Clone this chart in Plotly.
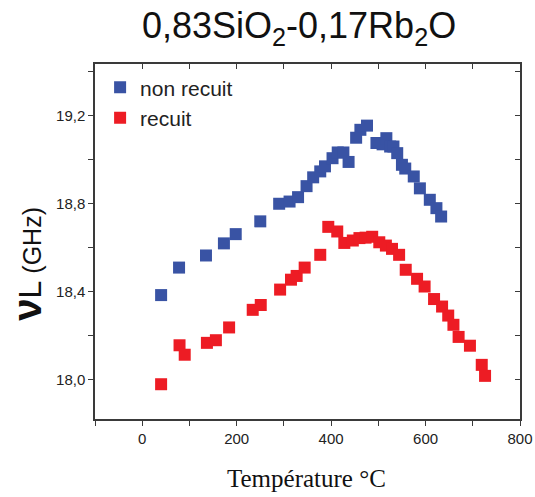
import plotly.graph_objects as go

# Data
temp_non_recuit = [40, 78, 135, 173, 198, 250, 290, 312, 330, 348, 362, 377, 387, 403, 414, 426, 437,
                   453, 462, 476, 496, 509, 517, 525, 532, 540, 550, 557, 575, 588, 609, 623, 633]
vl_non_recuit = [18.385, 18.51, 18.565, 18.62, 18.662, 18.72, 18.80, 18.81, 18.83, 18.88, 18.92, 18.947,
                 18.97, 19.007, 19.033, 19.033, 18.99, 19.10, 19.136, 19.155, 19.076, 19.07, 19.098,
                 19.06, 19.06, 19.03, 18.977, 18.96, 18.924, 18.87, 18.818, 18.78, 18.742]

temp_recuit = [40, 79, 90, 137, 156, 184, 234, 251, 292, 315, 327, 344, 377, 394, 413, 428, 446, 460,
               473, 487, 502, 516, 529, 544, 558, 582, 598, 618, 635, 648, 659, 670, 694, 719, 726]
vl_recuit = [17.98, 18.157, 18.114, 18.168, 18.18, 18.238, 18.318, 18.34, 18.41, 18.455, 18.472, 18.51,
             18.568, 18.695, 18.674, 18.622, 18.633, 18.644, 18.646, 18.65, 18.625, 18.61, 18.595,
             18.568, 18.5, 18.459, 18.424, 18.367, 18.333, 18.292, 18.25, 18.195, 18.155, 18.068, 18.018]

series_names = ["non recuit", "recuit"]
title_text = "0,83SiO<sub>2</sub>-0,17Rb<sub>2</sub>O"
x_title = "Température °C"

BLUE = "#3953A4"
RED = "#ED1C24"
AX = "#3a3a3a"

fig = go.Figure()
fig.add_trace(go.Scatter(x=temp_non_recuit, y=vl_non_recuit, mode="markers", name=series_names[0],
                         marker=dict(symbol="square", size=12, color=BLUE, line=dict(width=0))))
fig.add_trace(go.Scatter(x=temp_recuit, y=vl_recuit, mode="markers", name=series_names[1],
                         marker=dict(symbol="square", size=12, color=RED, line=dict(width=0))))
# invisible trace to anchor the top/right tick axes
fig.add_trace(go.Scatter(x=[None], y=[None], xaxis="x2", yaxis="y2", showlegend=False, hoverinfo="skip"))

XR = [-100, 800]
YR = [17.822, 19.435]

fig.update_layout(
    template="none",
    width=535, height=497,
    margin=dict(l=95, r=15, t=64, b=78, autoexpand=False),
    paper_bgcolor="white", plot_bgcolor="white",
    separators=",.",
    font=dict(family="Liberation Sans, Arial, sans-serif", color="#222"),
    title=dict(text=title_text, x=0.559, xref="container", xanchor="center",
               y=0.949, yref="container", yanchor="middle",
               font=dict(size=36, color="#111", family="Liberation Sans, Arial, sans-serif")),
    showlegend=True,
    legend=dict(x=0.012, y=0.991, xanchor="left", yanchor="top", bgcolor="rgba(0,0,0,0)",
                font=dict(size=21, color="#222"), itemsizing="constant", tracegroupgap=0),
    xaxis=dict(range=XR, showgrid=False, zeroline=False, showline=True, mirror=True, automargin=False,
               linecolor=AX, linewidth=1.5, ticks="outside", ticklen=5, tickwidth=1.2, tickcolor=AX,
               tick0=0, dtick=200, tickfont=dict(size=15, color="#222"),
               minor=dict(dtick=100, tick0=0, ticks="outside", ticklen=5, tickwidth=1.2, tickcolor=AX, showgrid=False)),
    yaxis=dict(range=YR, showgrid=False, zeroline=False, showline=True, mirror=True, automargin=False,
               linecolor=AX, linewidth=1.5, ticks="outside", ticklen=5, tickwidth=1.2, tickcolor=AX,
               tick0=18.0, dtick=0.4, tickformat=".1f", tickfont=dict(size=15, color="#222"),
               minor=dict(dtick=0.2, tick0=18.0, ticks="outside", ticklen=5, tickwidth=1.2, tickcolor=AX, showgrid=False)),
    xaxis2=dict(range=XR, overlaying="x", side="top", anchor="y", showgrid=False, zeroline=False, automargin=False,
                showticklabels=False, ticks="inside", ticklen=5, tickwidth=1.2, tickcolor=AX,
                tick0=0, dtick=100, showline=False),
    yaxis2=dict(range=YR, overlaying="y", side="right", anchor="x", showgrid=False, zeroline=False, automargin=False,
                showticklabels=False, ticks="inside", ticklen=5, tickwidth=1.2, tickcolor=AX,
                tick0=18.0, dtick=0.2, showline=False),
)

# y-axis title
fig.add_annotation(
    text="<span style='font-size:40px'><b>ν</b></span><span style='font-size:32px'>L</span> (GHz)",
    xref="paper", yref="paper", x=-0.162, y=0.438, xanchor="center", yanchor="middle",
    textangle=-90, showarrow=False, font=dict(size=25, color="#111", family="Liberation Sans, Arial, sans-serif"))

# x-axis title
fig.add_annotation(
    text=x_title, xref="paper", yref="paper", x=0.4976, y=-0.169, xanchor="center", yanchor="middle",
    showarrow=False, font=dict(size=25, color="#111", family="Liberation Serif, Times New Roman, serif"))

# remove the default 8px page margin so the 535x497 figure fills the window exactly
fig.write_html("out.html", config={"displayModeBar": False},
               post_script="document.body.style.margin='0px';document.body.style.overflow='hidden';")
